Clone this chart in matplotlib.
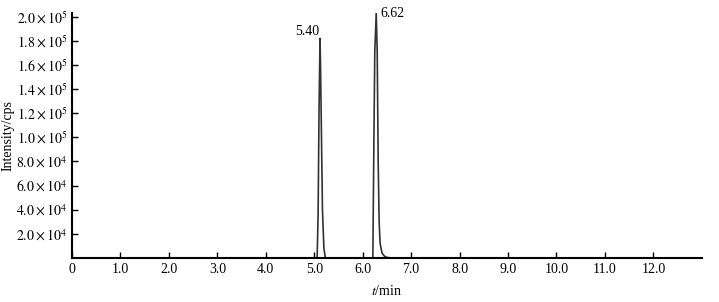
import matplotlib
matplotlib.use('Agg')
import matplotlib.pyplot as plt

# chromatogram data (t in min, intensity in cps)
time = [0.0, 5.06, 5.08, 5.10, 5.12, 5.13, 5.15, 5.17, 5.20, 5.23,
        6.21, 6.23, 6.25, 6.28, 6.30, 6.32, 6.34, 6.36, 6.40, 6.45, 6.50, 6.60, 13.0]
intensity = [0, 0, 3.5e4, 1.25e5, 1.82e5, 1.6e5, 1.0e5, 4.0e4, 8e3, 0,
             0, 8.9e4, 1.71e5, 2.03e5, 1.71e5, 8.0e4, 3.0e4, 1.2e4, 4e3, 1.5e3, 5e2, 0, 0]

peak_t = [5.12, 6.28]
peak_i = [1.82e5, 2.03e5]
peak_labels = ['5.40', '6.62']

xticks = [0, 1, 2, 3, 4, 5, 6, 7, 8, 9, 10, 11, 12]
xticklabels = ['0'] + [f'{v:.1f}' for v in xticks[1:]]
yticks = [2e4, 4e4, 6e4, 8e4, 1e5, 1.2e5, 1.4e5, 1.6e5, 1.8e5, 2e5]
yticklabels = [r'$2.0\times10^{4}$', r'$4.0\times10^{4}$', r'$6.0\times10^{4}$', r'$8.0\times10^{4}$',
               r'$1.0\times10^{5}$', r'$1.2\times10^{5}$', r'$1.4\times10^{5}$', r'$1.6\times10^{5}$',
               r'$1.8\times10^{5}$', r'$2.0\times10^{5}$']

plt.rcParams['font.family'] = ['Liberation Serif', 'DejaVu Serif']
plt.rcParams['mathtext.fontset'] = 'stix'

fig = plt.figure(figsize=(7.19, 3.02), dpi=100)
ax = fig.add_axes([0.1001, 0.1457, 0.876, 0.811])
ax.plot(time, intensity, color='#333333', lw=1.2)

ax.text(peak_t[0] - 0.02, peak_i[0], peak_labels[0], ha='right', va='bottom', fontsize=10)
ax.text(peak_t[1] + 0.08, peak_i[1], peak_labels[1], ha='left', va='center', fontsize=10)

ax.set_xlim(0, 13)
ax.set_ylim(0, 2.03e5)
ax.set_xticks(xticks)
ax.set_xticklabels(xticklabels, fontsize=10)
ax.set_yticks(yticks)
ax.set_yticklabels(yticklabels, fontsize=10)
ax.tick_params(direction='in', length=4, width=1)
ax.spines['top'].set_visible(False)
ax.spines['right'].set_visible(False)
ax.spines['left'].set_linewidth(1.5)
ax.spines['bottom'].set_linewidth(1.5)
ax.set_xlabel(r'$\mathit{t}$/min', fontsize=10, labelpad=6)
ax.set_ylabel('Intensity/cps', fontsize=10, labelpad=1)

fig.savefig('out.png', dpi=100)
